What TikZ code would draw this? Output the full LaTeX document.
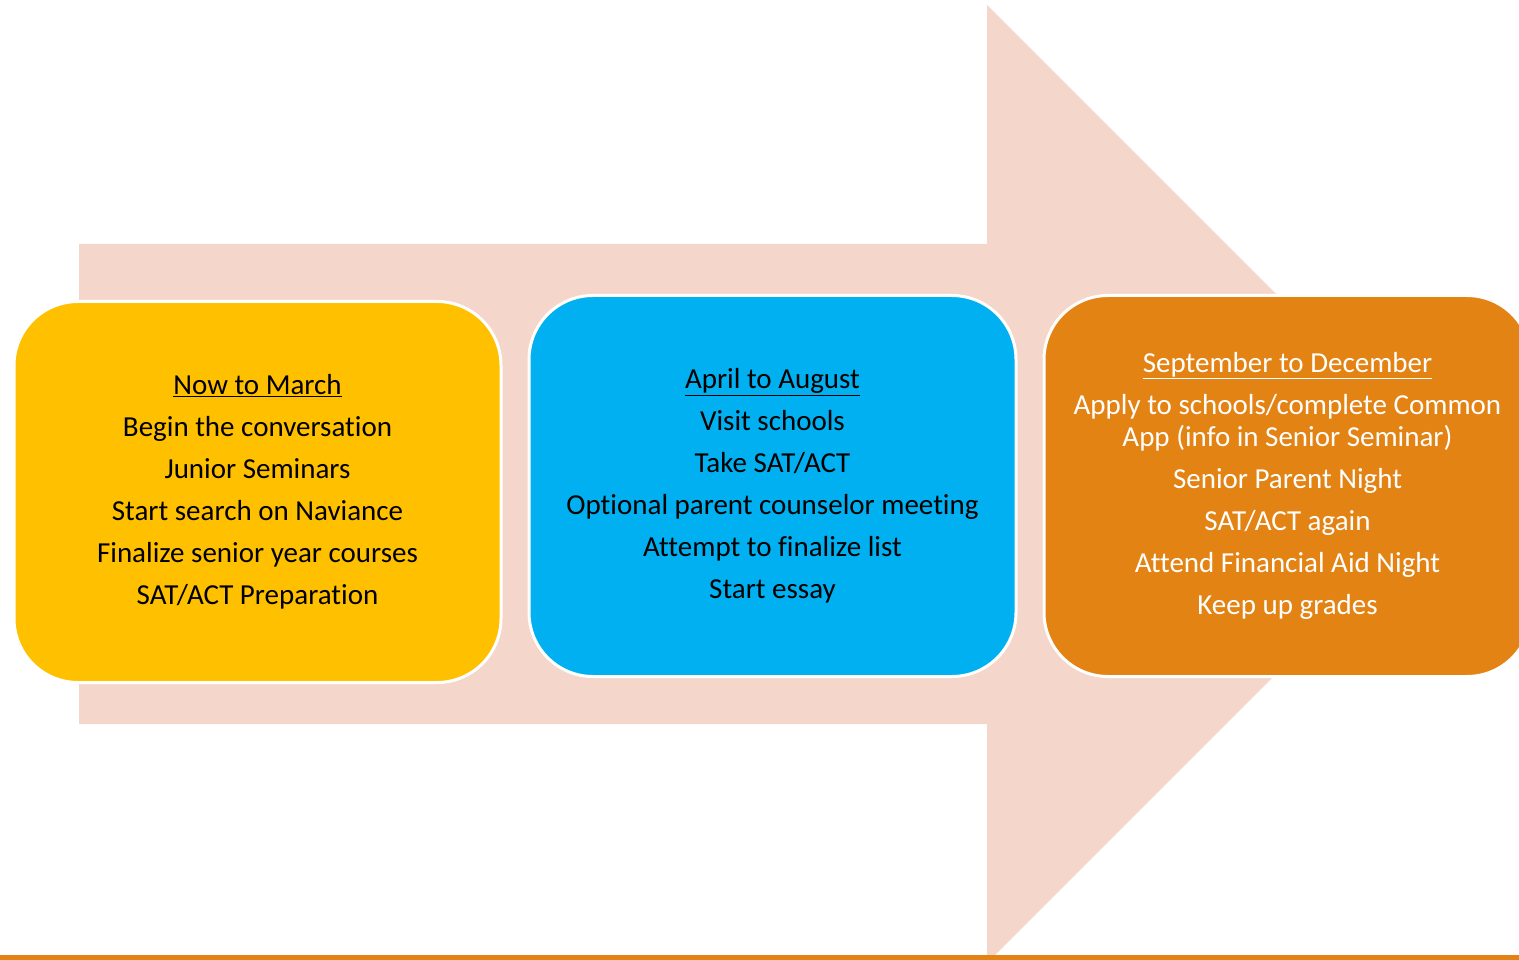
\documentclass[tikz,border=0pt]{standalone}
\usepackage{fontspec}
\setmainfont[Ligatures=NoCommon]{Carlito}
\definecolor{peach}{RGB}{244,215,202}
\definecolor{yellowbox}{RGB}{255,192,0}
\definecolor{bluebox}{RGB}{0,176,240}
\definecolor{orangebox}{RGB}{227,131,20}
\newcommand{\gap}{\\[10pt]}
\tikzset{
  box/.style={draw=white,line width=3pt,rounded corners=64pt,
    minimum width=487pt,minimum height=381pt,align=center,
    font=\fontsize{29}{32}\selectfont}
}

\begin{document}
\begin{tikzpicture}[x=1pt,y=-1pt]
   \useasboundingbox (0,0) rectangle (1519,960);
   \clip (0,0) rectangle (1519,960);
   % big arrow behind the boxes
   \fill[peach] (79,244) -- (987,244) -- (987,5) -- (1466,484)
     -- (987,963) -- (987,724) -- (79,724) -- cycle;
   \fill[orangebox] (0,955) rectangle (1519,960);
   \node[box,fill=yellowbox] (now) at (257.5,492)
     {\underline{Now to March}\gap
      Begin the conversation\gap
      Junior Seminars\gap
      Start search on Naviance\gap
      Finalize senior year courses\gap
      SAT/ACT Preparation};
   \node[box,fill=bluebox] (april) at (772.5,486)
     {\underline{April to August}\gap
      Visit schools\gap
      Take SAT/ACT\gap
      Optional parent counselor meeting\gap
      Attempt to finalize list\gap
      Start essay};
   \node[box,fill=orangebox,text=white] (sept) at (1287.5,486)
     {\underline{September to December}\gap
      Apply to schools/complete Common\\
      App (info in Senior Seminar)\gap
      Senior Parent Night\gap
      SAT/ACT again\gap
      Attend Financial Aid Night\gap
      Keep up grades};
  \end{tikzpicture}
\end{document}
